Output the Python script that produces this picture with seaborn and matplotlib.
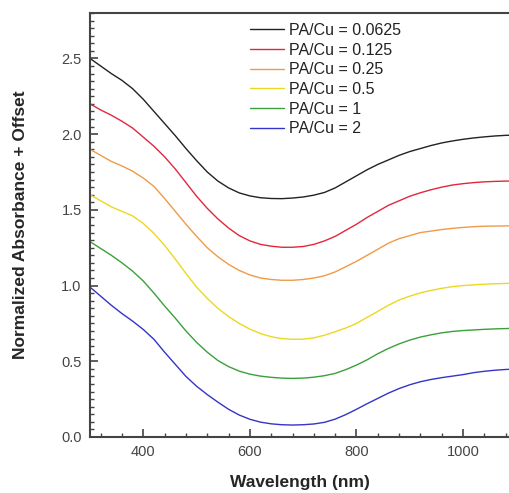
import pandas as pd
import matplotlib.pyplot as plt
import seaborn as sns
from matplotlib.ticker import MultipleLocator, FormatStrFormatter

# Longueurs d'onde (nm)
wavelength = [300, 320, 340, 360, 380, 400, 420, 440, 460, 480,
              500, 520, 540, 560, 580, 600, 620, 640, 660, 680,
              700, 720, 740, 760, 780, 800, 820, 840, 860, 880,
              900, 920, 940, 960, 980, 1000, 1020, 1040, 1060, 1080, 1088]

# Absorbance normalisée + offset
pa_0_0625 = [2.50, 2.45, 2.40, 2.355, 2.30, 2.23, 2.15, 2.07, 1.99, 1.905,
             1.825, 1.75, 1.69, 1.645, 1.612, 1.592, 1.58, 1.575, 1.574, 1.578,
             1.585, 1.597, 1.615, 1.645, 1.685, 1.725, 1.765, 1.80, 1.83, 1.86,
             1.885, 1.905, 1.925, 1.942, 1.955, 1.966, 1.975, 1.982, 1.988, 1.992, 1.993]
pa_0_125 = [2.20, 2.16, 2.125, 2.085, 2.04, 1.98, 1.92, 1.85, 1.77, 1.68,
            1.59, 1.51, 1.44, 1.38, 1.33, 1.295, 1.272, 1.26, 1.253, 1.253,
            1.258, 1.272, 1.295, 1.325, 1.365, 1.405, 1.45, 1.49, 1.53, 1.56,
            1.59, 1.613, 1.633, 1.65, 1.664, 1.673, 1.68, 1.685, 1.688, 1.69, 1.69]
pa_0_25 = [1.90, 1.86, 1.82, 1.79, 1.755, 1.71, 1.655, 1.575, 1.49, 1.405,
           1.325, 1.25, 1.19, 1.14, 1.10, 1.07, 1.05, 1.04, 1.035, 1.035,
           1.04, 1.05, 1.065, 1.09, 1.125, 1.16, 1.20, 1.24, 1.28, 1.31,
           1.33, 1.35, 1.36, 1.37, 1.378, 1.384, 1.389, 1.392, 1.393, 1.394, 1.394]
pa_0_5 = [1.60, 1.56, 1.52, 1.49, 1.46, 1.41, 1.345, 1.265, 1.175, 1.08,
          0.99, 0.915, 0.85, 0.795, 0.75, 0.712, 0.683, 0.662, 0.65, 0.645,
          0.646, 0.655, 0.672, 0.695, 0.72, 0.75, 0.79, 0.83, 0.87, 0.905,
          0.93, 0.952, 0.968, 0.982, 0.993, 1.0, 1.005, 1.009, 1.012, 1.014, 1.015]
pa_1 = [1.29, 1.245, 1.20, 1.15, 1.095, 1.03, 0.95, 0.865, 0.785, 0.70,
        0.625, 0.56, 0.505, 0.465, 0.435, 0.415, 0.402, 0.394, 0.389, 0.387,
        0.389, 0.395, 0.405, 0.42, 0.445, 0.475, 0.51, 0.55, 0.585, 0.615,
        0.64, 0.66, 0.675, 0.688, 0.697, 0.703, 0.707, 0.711, 0.714, 0.716, 0.717]
pa_2 = [0.99, 0.93, 0.87, 0.815, 0.765, 0.71, 0.645, 0.56, 0.48, 0.40,
        0.335, 0.28, 0.23, 0.183, 0.145, 0.117, 0.098, 0.087, 0.081, 0.079,
        0.081, 0.086, 0.097, 0.118, 0.148, 0.183, 0.22, 0.255, 0.29, 0.32,
        0.345, 0.365, 0.38, 0.392, 0.402, 0.412, 0.425, 0.434, 0.441, 0.446, 0.447]

labels = ['PA/Cu = 0.0625', 'PA/Cu = 0.125', 'PA/Cu = 0.25',
          'PA/Cu = 0.5', 'PA/Cu = 1', 'PA/Cu = 2']
series = [pa_0_0625, pa_0_125, pa_0_25, pa_0_5, pa_1, pa_2]
couleurs = ['#222222', '#e0283c', '#f09a48', '#ecd820', '#3aa03a', '#3434c8']

rows = []
for lab, vals in zip(labels, series):
    for w, v in zip(wavelength, vals):
        rows.append({'Wavelength': w, 'Absorbance': v, 'Echantillon': lab})
df = pd.DataFrame(rows)

sns.set_style('ticks')
plt.rcParams['font.family'] = ['Liberation Sans', 'DejaVu Sans']

fig = plt.figure(figsize=(5.1, 4.93), dpi=100)
ax = fig.add_axes([90 / 510, 56 / 493, 1 - 90 / 510, (437 - 13) / 493])

sns.lineplot(data=df, x='Wavelength', y='Absorbance', hue='Echantillon',
             hue_order=labels, palette=couleurs, linewidth=1.0, ax=ax)

ax.set_xlim(300, 1088)
ax.set_ylim(0, 2.8)
ax.xaxis.set_major_locator(MultipleLocator(200))
ax.xaxis.set_minor_locator(MultipleLocator(40))
ax.yaxis.set_major_locator(MultipleLocator(0.5))
ax.yaxis.set_minor_locator(MultipleLocator(0.05))
ax.yaxis.set_major_formatter(FormatStrFormatter('%.1f'))

ax.tick_params(which='both', direction='in', colors='#444444', labelsize=10.5,
               top=False, right=False)
ax.tick_params(which='major', length=6, width=1.2, pad=6)
ax.tick_params(which='minor', length=3, width=1.0)
for s in ['left', 'top', 'bottom']:
    ax.spines[s].set_color('#444444')
    ax.spines[s].set_linewidth(1.5)
ax.spines['right'].set_visible(False)

ax.set_xlabel('Wavelength (nm)', fontsize=12.5, fontweight='bold', labelpad=11)
ax.set_ylabel('Normalized Absorbance + Offset', fontsize=12.5, fontweight='bold', labelpad=24)

leg = ax.legend(loc='upper left', bbox_to_anchor=(250 / 510, 1 - 23 / 493),
                bbox_transform=fig.transFigure, frameon=False, fontsize=11.5,
                handlelength=2.1, handletextpad=0.35, labelspacing=0.29,
                borderpad=0, borderaxespad=0)
for t in leg.get_texts():
    t.set_color('#222222')

fig.savefig('out.png', dpi=100)
